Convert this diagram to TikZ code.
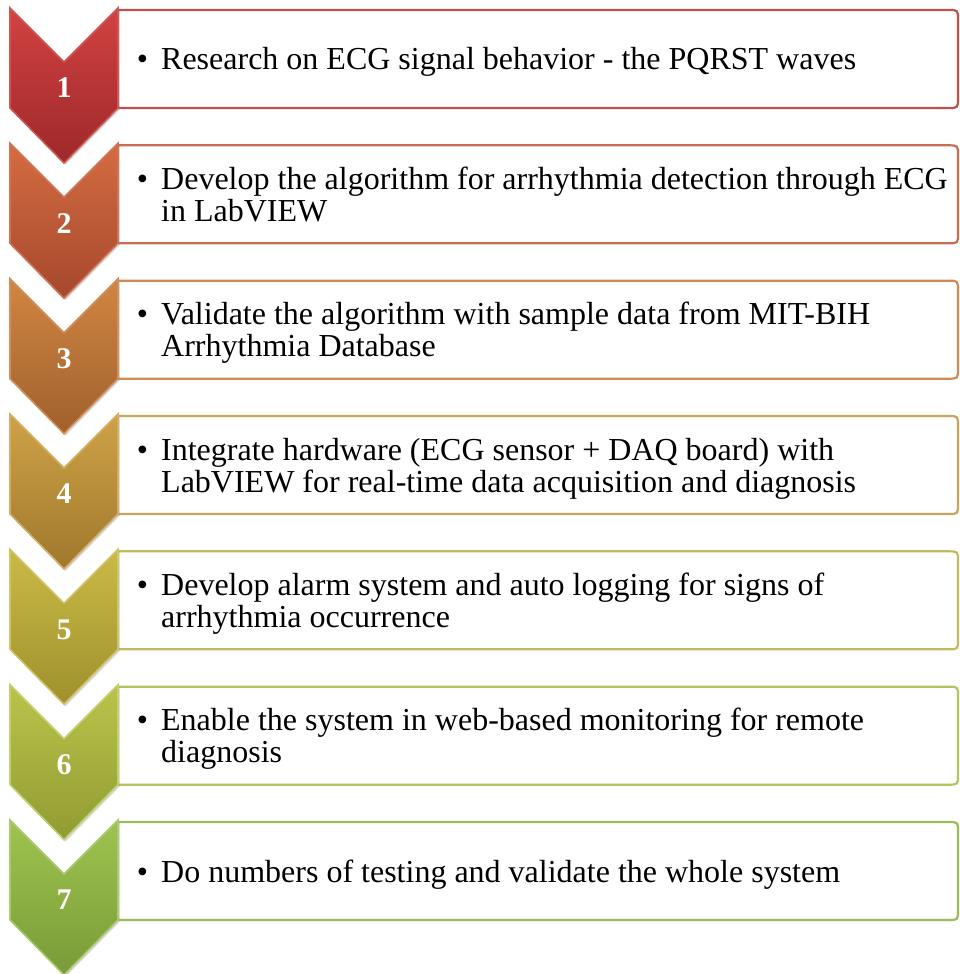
\documentclass[tikz,border=0pt]{standalone}
\usepackage{fontspec}
\setmainfont{Liberation Serif}
\usetikzlibrary{shadows}
\definecolor{top1}{RGB}{210,66,66}\definecolor{bot1}{RGB}{158,40,42}\definecolor{edge1}{RGB}{205,85,82}\definecolor{boxc1}{RGB}{192,80,77}
\definecolor{top2}{RGB}{212,108,66}\definecolor{bot2}{RGB}{165,72,45}\definecolor{edge2}{RGB}{208,115,85}\definecolor{boxc2}{RGB}{200,110,80}
\definecolor{top3}{RGB}{208,134,66}\definecolor{bot3}{RGB}{160,96,45}\definecolor{edge3}{RGB}{212,142,92}\definecolor{boxc3}{RGB}{205,140,85}
\definecolor{top4}{RGB}{206,162,70}\definecolor{bot4}{RGB}{160,120,45}\definecolor{edge4}{RGB}{212,172,102}\definecolor{boxc4}{RGB}{200,165,90}
\definecolor{top5}{RGB}{202,186,70}\definecolor{bot5}{RGB}{158,145,45}\definecolor{edge5}{RGB}{207,196,106}\definecolor{boxc5}{RGB}{195,185,95}
\definecolor{top6}{RGB}{186,196,75}\definecolor{bot6}{RGB}{145,155,50}\definecolor{edge6}{RGB}{196,206,112}\definecolor{boxc6}{RGB}{180,195,95}
\definecolor{top7}{RGB}{160,196,80}\definecolor{bot7}{RGB}{120,155,55}\definecolor{edge7}{RGB}{168,202,112}\definecolor{boxc7}{RGB}{155,187,89}
\tikzset{
  boxline/.style={line width=2.2pt, fill=white},
  chev/.style={line width=1.6pt, drop shadow={opacity=0.3, shadow xshift=1.5pt, shadow yshift=-2pt}},
  numtxt/.style={text=white, font=\fontsize{30}{30}\selectfont\bfseries, inner sep=0pt},
  steptxt/.style={font=\fontsize{32}{32}\selectfont, anchor=base west, inner sep=0pt}
}
% #1 index, #2 top y, #3 baseline offset of first line, #4 text
\newcommand\mkstep[4]{%
  \draw[boxline, draw=boxc#1] (118,#2+100) -- (118,#2+2) -- (948,#2+2) .. controls (958,#2+2) .. (958,#2+12)
     -- (958,#2+90) .. controls (958,#2+100) .. (948,#2+100) -- cycle;
  \coordinate (box#1) at (538,#2+51);
  \draw[chev, top color=top#1, bottom color=bot#1, draw=edge#1]
     (10,#2) -- (64,#2+54) -- (118,#2) -- (118,#2+100) -- (64,#2+155) -- (10,#2+100) -- cycle;
  \node[numtxt] (num#1) at (64,#2+80) {#1};
  \node[steptxt] (txt#1) at (161,#2+#3) {\begin{tabular}[t]{@{}l@{}}\llap{\textbullet\hspace{13pt}}#4\end{tabular}};
}
\begin{document}
\begin{tikzpicture}[x=1pt,y=-1pt]
\useasboundingbox (0,0) rectangle (960,974);
\mkstep{1}{8}{62}{Research on ECG signal behavior - the PQRST waves}
\mkstep{2}{143.33}{46}{Develop the algorithm for arrhythmia detection through ECG\\in LabVIEW}
\mkstep{3}{278.67}{46}{Validate the algorithm with sample data from MIT-BIH\\Arrhythmia Database}
\mkstep{4}{414}{46}{Integrate hardware (ECG sensor + DAQ board) with\\LabVIEW for real-time data acquisition and diagnosis}
\mkstep{5}{549.33}{46}{Develop alarm system and auto logging for signs of\\arrhythmia occurrence}
\mkstep{6}{684.67}{46}{Enable the system in web-based monitoring for remote\\diagnosis}
\mkstep{7}{820}{62}{Do numbers of testing and validate the whole system}
\end{tikzpicture}
\end{document}
